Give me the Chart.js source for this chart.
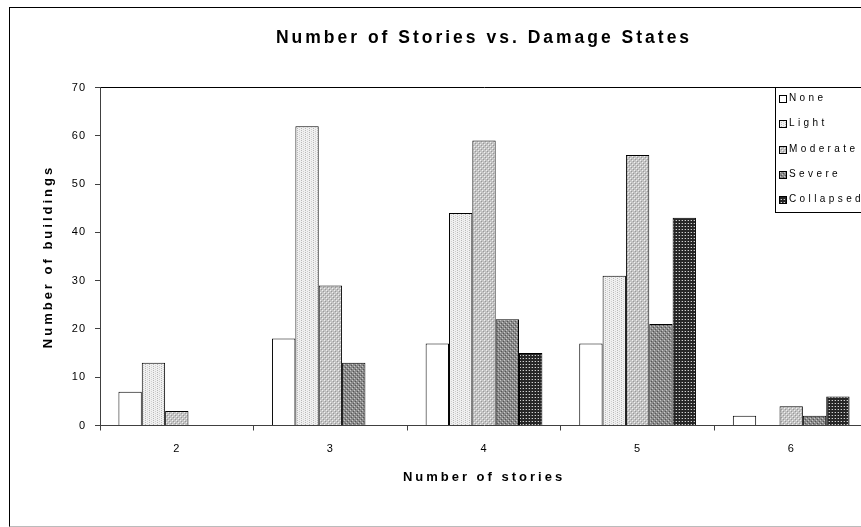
<!DOCTYPE html>
<html>
<head>
<meta charset="utf-8">
<script src="https://cdn.jsdelivr.net/npm/chart.js@4.4.1/dist/chart.umd.min.js"></script>
<style>
    html, body { margin: 0; padding: 0; background: #fff; overflow: hidden; }
    #frame {
        position: absolute; left: 9px; top: 7px; width: 900px; height: 518px;
        border: 1px solid #000; border-bottom-color: #bbb;
    }
    #wrap { position: absolute; left: 0; top: 0; width: 870px; height: 527px; }
</style>
</head>
<body>
<div id="frame"></div>
<div id="wrap"><canvas id="storiesChart"></canvas></div>
<script>
/* ================================
   DATA
================================ */
const stories = ['2', '3', '4', '5', '6'];
const damageStates = ['None', 'Light', 'Moderate', 'Severe', 'Collapsed'];
const noneVals = [7, 18, 17, 17, 2];
const lightVals = [13, 62, 44, 31, 0];
const moderateVals = [3, 29, 59, 56, 4];
const severeVals = [0, 13, 22, 21, 2];
const collapsedVals = [0, 0, 15, 43, 6];
const yMax = 70;
const yStep = 10;

const FONT = '"Liberation Sans", Arial, sans-serif';

/* ================================
   FILL PATTERNS (Excel style)
================================ */
// small tiles: background colour + list of [x, y, colour] pixels
function makePattern(ctx, size, bg, dots) {
    const tile = document.createElement('canvas');
    tile.width = size;
    tile.height = size;
    const t = tile.getContext('2d');
    t.fillStyle = bg;
    t.fillRect(0, 0, size, size);
    dots.forEach(([x, y, c]) => {
        t.fillStyle = c;
        t.fillRect(x, y, 1, 1);
    });
    return ctx.createPattern(tile, 'repeat');
}

const canvas = document.getElementById('storiesChart');
const ctx = canvas.getContext('2d');

const fills = [
    '#ffffff',
    makePattern(ctx, 4, '#f0f0f0', [[1, 0, '#b8b8b8'], [1, 2, '#b8b8b8'], [3, 1, '#d0d0d0'], [3, 3, '#d0d0d0']]),
    makePattern(ctx, 4, '#c4c4c4', [[0, 0, '#f0f0f0'], [2, 2, '#f0f0f0'], [1, 1, '#999999'], [3, 3, '#999999']]),
    makePattern(ctx, 4, '#8a8a8a', [[0, 0, '#c8c8c8'], [2, 2, '#c8c8c8'], [1, 3, '#555555'], [3, 1, '#555555']]),
    makePattern(ctx, 3, '#262626', [[1, 1, '#d0d0d0'], [0, 1, '#606060']])
];
const seriesVals = [noneVals, lightVals, moderateVals, severeVals, collapsedVals];

/* ================================
   PLUGINS
================================ */
// letter spacing like the old Excel export: wide on titles, narrow on tick labels
// (tick labels sit on layer z:1 so they are drawn after the datasets)
const spacingPlugin = {
    id: 'spacing',
    beforeDraw(chart) { chart.ctx.letterSpacing = '3px'; },
    afterDatasetsDraw(chart) { chart.ctx.letterSpacing = '1px'; }
};

// legend box sitting on top of the plot area, right side
const boxLegend = {
    id: 'boxLegend',
    afterDraw(chart) {
        const c = chart.ctx;
        const top = chart.chartArea.top;
        const left = 775;
        c.save();
        c.fillStyle = '#fff';
        c.fillRect(left, top, 120, 125);
        c.strokeStyle = '#000';
        c.lineWidth = 1;
        c.strokeRect(left + 0.5, top, 120, 125);
        c.font = '10px ' + FONT;
        c.letterSpacing = '3.4px';
        c.textBaseline = 'middle';
        chart.data.datasets.forEach((ds, i) => {
            const yc = Math.round(top + 10.5 + i * 25.25);
            c.fillStyle = ds.backgroundColor;
            c.fillRect(779, yc - 3, 7, 7);
            c.strokeStyle = '#000';
            c.strokeRect(779.5, yc - 2.5, 7, 7);
            c.fillStyle = '#000';
            c.fillText(ds.label, 789, yc);
        });
        c.restore();
    }
};

/* ================================
   CHART
================================ */
new Chart(canvas, {
    type: 'bar',
    data: {
        labels: stories,
        datasets: damageStates.map((name, i) => ({
            label: name,
            data: seriesVals[i],
            backgroundColor: fills[i],
            borderColor: '#000',
            borderWidth: 1,
            categoryPercentage: 0.76,
            barPercentage: 1
        }))
    },
    options: {
        responsive: true,
        maintainAspectRatio: false,
        animation: false,
        layout: { padding: { left: 0, right: 2, top: 0, bottom: 41.5 } },
        plugins: {
            legend: { display: false },
            tooltip: { enabled: false },
            title: {
                display: true,
                text: 'Number of Stories vs. Damage States',
                fullSize: false,
                color: '#000',
                font: { family: FONT, size: 17.5, weight: 'bold' },
                padding: { top: 27.5, bottom: 39 }
            }
        },
        scales: {
            x: {
                afterFit(scale) { scale.height = 60; },
                grid: {
                    drawOnChartArea: false,
                    drawTicks: true,
                    tickLength: 5,
                    tickColor: '#404040',
                    offset: true
                },
                border: { color: '#404040', width: 1 },
                ticks: {
                    z: 1,
                    color: '#000',
                    font: { family: FONT, size: 11 },
                    padding: 12
                },
                title: {
                    display: true,
                    text: 'Number of stories',
                    color: '#000',
                    font: { family: FONT, size: 13, weight: 'bold' },
                    padding: { top: 0, bottom: 0 }
                }
            },
            y: {
                min: 0,
                max: yMax,
                afterFit(scale) { scale.width = 100; },
                grid: {
                    drawOnChartArea: true,
                    color: c => c.tick && c.tick.value === yMax ? '#000' : 'rgba(0,0,0,0)',
                    tickColor: '#404040',
                    tickLength: 5
                },
                border: { color: '#404040', width: 1 },
                ticks: {
                    z: 1,
                    stepSize: yStep,
                    color: '#000',
                    font: { family: FONT, size: 11 },
                    padding: 9
                },
                title: {
                    display: true,
                    text: 'Number of buildings',
                    color: '#000',
                    font: { family: FONT, size: 13, weight: 'bold' },
                    padding: { top: 41, bottom: 0 }
                }
            }
        }
    },
    plugins: [spacingPlugin, boxLegend]
});
</script>
</body>
</html>
